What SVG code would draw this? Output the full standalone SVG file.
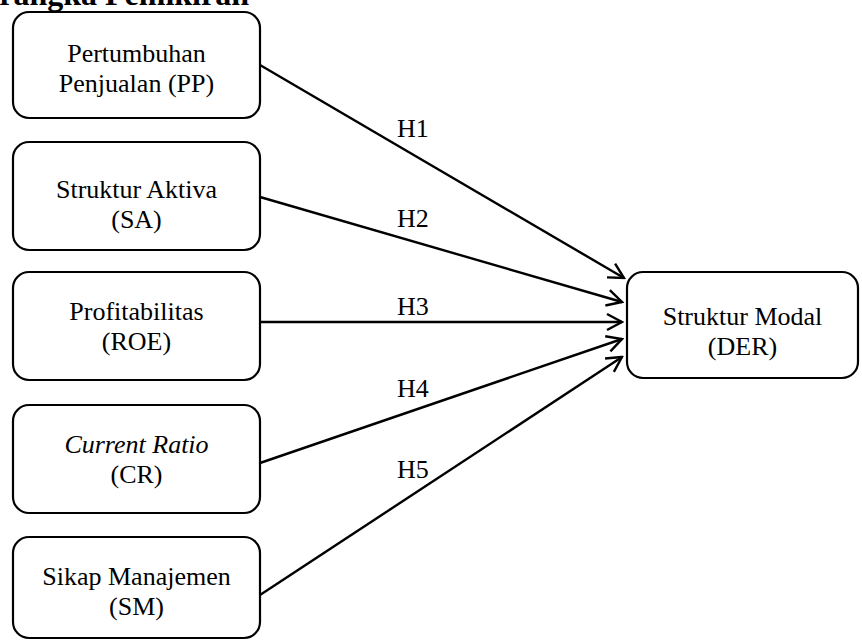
<svg xmlns="http://www.w3.org/2000/svg" width="862" height="641" viewBox="0 0 862 641">
<defs>
<style>
.box{fill:#fff;stroke:#000;stroke-width:2.2}
.t{font-family:"Liberation Serif","Times New Roman",serif;font-size:26px;fill:#000;text-anchor:middle}
.i{font-style:italic}
.title{font-family:"Liberation Serif","Times New Roman",serif;font-size:32px;font-weight:bold;fill:#000}
.c{stroke:#000;stroke-width:2.4;fill:none;marker-end:url(#arr)}
.h{font-family:"Liberation Serif","Times New Roman",serif;font-size:26px;fill:#000}
</style>
<marker id="arr" markerUnits="userSpaceOnUse" markerWidth="20" markerHeight="20" viewBox="0 0 20 20" refX="18" refY="10" orient="auto">
<path d="M3,2 L18,10 L3,18" fill="none" stroke="#000" stroke-width="2.4"/>
</marker>
</defs>
<rect width="862" height="641" fill="#fff"/>
<text class="title" x="249" y="5" text-anchor="end">Kerangka Pemikiran</text>
<g id="pp">
<rect class="box" x="13" y="12" width="247" height="106" rx="16"/>
<text class="t" x="136.5" y="62">Pertumbuhan</text>
<text class="t" x="136.5" y="92">Penjualan (PP)</text>
</g>
<g id="sa">
<rect class="box" x="13" y="142" width="247" height="108" rx="16"/>
<text class="t" x="136.5" y="198">Struktur Aktiva</text>
<text class="t" x="136.5" y="228">(SA)</text>
</g>
<g id="roe">
<rect class="box" x="13" y="272" width="247" height="108" rx="16"/>
<text class="t" x="136.5" y="320">Profitabilitas</text>
<text class="t" x="136.5" y="350">(ROE)</text>
</g>
<g id="cr">
<rect class="box" x="13" y="405" width="247" height="108" rx="16"/>
<text class="t i" x="136.5" y="453">Current Ratio</text>
<text class="t" x="136.5" y="483">(CR)</text>
</g>
<g id="sm">
<rect class="box" x="13" y="537" width="247" height="101" rx="16"/>
<text class="t" x="136.5" y="585">Sikap Manajemen</text>
<text class="t" x="136.5" y="615">(SM)</text>
</g>
<g id="der">
<rect class="box" x="627" y="272" width="231" height="106" rx="16"/>
<text class="t" x="742.5" y="325">Struktur Modal</text>
<text class="t" x="742.5" y="355">(DER)</text>
</g>
<g id="connectors">
<line class="c" x1="260" y1="65" x2="624" y2="278"/>
<line class="c" x1="260" y1="197" x2="622" y2="302"/>
<line class="c" x1="260" y1="322" x2="622" y2="322"/>
<line class="c" x1="260" y1="463" x2="622" y2="339"/>
<line class="c" x1="260" y1="595" x2="622" y2="357"/>
<text class="h" x="397" y="137">H1</text>
<text class="h" x="397" y="227">H2</text>
<text class="h" x="397" y="315">H3</text>
<text class="h" x="397" y="397">H4</text>
<text class="h" x="397" y="478">H5</text>
</g>
</svg>
